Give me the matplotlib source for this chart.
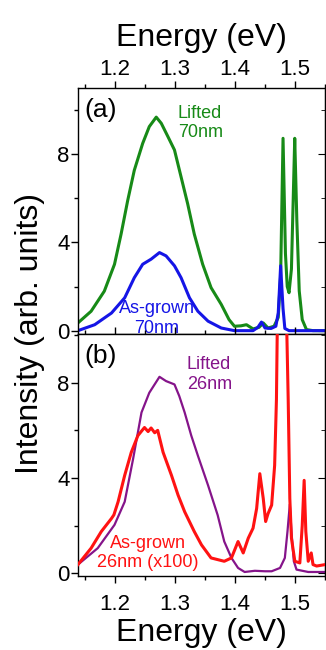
import matplotlib
matplotlib.use("Agg")
import matplotlib.pyplot as plt
from matplotlib.ticker import MultipleLocator

plt.rcParams['font.family'] = ['Liberation Sans', 'DejaVu Sans']

# panel (a): 70nm samples
E_green = [1.138, 1.160, 1.182, 1.199, 1.210, 1.221, 1.232, 1.246, 1.257, 1.2686, 1.277, 1.288,
           1.299, 1.310, 1.321, 1.332, 1.346, 1.360, 1.377, 1.390, 1.399, 1.410, 1.419, 1.430,
           1.440, 1.447, 1.455, 1.465, 1.472, 1.476, 1.480, 1.484, 1.487, 1.490, 1.494, 1.497,
           1.4995, 1.503, 1.507, 1.512, 1.519, 1.53, 1.55]
I_green = [0.35, 0.88, 1.79, 3.01, 4.38, 5.90, 7.27, 8.49, 9.25, 9.68, 9.40, 8.80,
           8.19, 6.97, 5.75, 4.38, 3.01, 1.95, 1.19, 0.5, 0.2, 0.22, 0.27, 0.08,
           0.15, 0.35, 0.12, 0.2, 0.6, 2.5, 8.72, 3.5, 2.0, 1.72, 2.8, 6.0,
           8.72, 5.0, 1.8, 0.5, 0.05, 0.0, 0.0]

E_blue = [1.138, 1.166, 1.194, 1.216, 1.232, 1.246, 1.260, 1.274, 1.285, 1.299, 1.310, 1.324,
          1.338, 1.355, 1.377, 1.399, 1.43, 1.438, 1.444, 1.45, 1.46, 1.468, 1.472, 1.476,
          1.480, 1.483, 1.49, 1.55]
I_blue = [0.0, 0.27, 0.80, 1.49, 2.40, 3.01, 3.24, 3.54, 3.39, 2.94, 2.40, 1.49,
          0.88, 0.43, 0.12, 0.0, 0.0, 0.15, 0.39, 0.12, 0.1, 0.2, 0.8, 2.94,
          1.0, 0.1, 0.0, 0.0]

# panel (b): 26nm samples
E_purple = [1.138, 1.171, 1.199, 1.216, 1.230, 1.244, 1.257, 1.274, 1.285, 1.299, 1.307, 1.316,
            1.327, 1.338, 1.355, 1.371, 1.382, 1.394, 1.405, 1.416, 1.433, 1.45, 1.461, 1.475,
            1.483, 1.4874, 1.4913, 1.494, 1.498, 1.5025, 1.522, 1.55]
I_purple = [0.36, 1.05, 2.03, 3.0, 4.80, 6.75, 7.58, 8.25, 8.07, 7.93, 7.44, 6.75,
            5.78, 4.94, 3.69, 2.44, 1.33, 0.64, 0.22, 0.05, 0.1, 0.08, 0.08, 0.22,
            0.64, 1.75, 2.89, 1.75, 0.5, 0.15, 0.05, 0.05]

E_red = [1.138, 1.160, 1.177, 1.194, 1.198, 1.205, 1.216, 1.227, 1.238, 1.249, 1.255, 1.260,
         1.266, 1.271, 1.280, 1.294, 1.305, 1.316, 1.332, 1.344, 1.360, 1.382, 1.394, 1.405,
         1.4136, 1.422, 1.430, 1.436, 1.4413, 1.447, 1.451, 1.455, 1.461, 1.466, 1.469, 1.4705,
         1.478, 1.486, 1.4886, 1.4913, 1.494, 1.4997, 1.508, 1.512, 1.5152, 1.518, 1.522, 1.527,
         1.530, 1.536, 1.55]
I_red = [0.36, 1.05, 1.75, 2.30, 2.45, 3.0, 4.11, 5.08, 5.78, 6.12, 5.95, 6.1,
         5.9, 6.0, 5.08, 4.11, 3.28, 2.58, 1.75, 1.19, 0.64, 0.5, 0.64, 1.33,
         0.85, 1.47, 1.89, 2.72, 4.18, 3.14, 2.17, 2.5, 2.86, 4.53, 7.3, 10.5,
         25, 10.5, 7.3, 3.14, 1.47, 0.5, 0.43, 2.0, 3.9, 1.75, 0.5, 0.85,
         0.36, 0.3, 0.36]

fig = plt.figure(figsize=(3.26, 6.5), dpi=100)
ax1 = fig.add_axes([0.239, 0.4862, 0.758, 0.3784])
ax2 = fig.add_axes([0.239, 0.1138, 0.758, 0.3724])

ax1.plot(E_green, I_green, color='#178a17', lw=2.2)
ax1.plot(E_blue, I_blue, color='#1515e6', lw=2.2)
ax2.plot(E_purple, I_purple, color='#85148a', lw=1.6)
ax2.plot(E_red, I_red, color='#ff1212', lw=2.2, zorder=3)

ax1.set_ylim(-0.15, 11)
ax2.set_ylim(-0.12, 10.05)

for ax in (ax1, ax2):
    ax.set_xlim(1.138, 1.55)
    ax.xaxis.set_major_locator(MultipleLocator(0.1))
    ax.xaxis.set_minor_locator(MultipleLocator(0.05))
    ax.yaxis.set_major_locator(MultipleLocator(4))
    ax.yaxis.set_minor_locator(MultipleLocator(2))
    ax.tick_params(axis='both', which='major', labelsize=16, width=1, length=5)
    ax.tick_params(axis='both', which='minor', width=1, length=3)
    ax.tick_params(axis='y', which='both', direction='out', left=True, right=False, pad=1)
    ax.tick_params(axis='x', which='both', direction='out')
    for s in ax.spines.values():
        s.set_linewidth(1.0)
    # inward ticks on the right side
    sec = ax.secondary_yaxis('right')
    sec.yaxis.set_major_locator(MultipleLocator(4))
    sec.yaxis.set_minor_locator(MultipleLocator(2))
    sec.tick_params(which='major', direction='in', length=5, labelright=False)
    sec.tick_params(which='minor', direction='in', length=3)

ax1.tick_params(axis='x', which='both', top=True, bottom=True, labeltop=True, labelbottom=False, pad=1)
ax1.xaxis.set_label_position('top')
ax1.set_xlabel('Energy (eV)', fontsize=23, labelpad=9)
ax2.tick_params(axis='x', which='both', top=True, bottom=True, labeltop=False, labelbottom=True)
ax2.tick_params(axis='x', which='major', pad=8)
ax2.set_xlabel('Energy (eV)', fontsize=23, labelpad=2)

fig.text(30 / 326, 1 - 334 / 650, 'Intensity (arb. units)', rotation=90,
         ha='center', va='center', fontsize=23)

ax1.text(0.025, 0.96, '(a)', transform=ax1.transAxes, fontsize=19, ha='left', va='top')
ax2.text(0.025, 0.96, '(b)', transform=ax2.transAxes, fontsize=19, ha='left', va='top')

ax1.text(1.3047, 10.25, 'Lifted\n70nm', color='#178a17', fontsize=13, ha='left', va='top')
ax1.text(1.2697, 0.56, 'As-grown\n70nm', color='#1515e6', fontsize=13, ha='center', va='center')
ax2.text(1.3197, 8.35, 'Lifted\n26nm', color='#85148a', fontsize=13, ha='left', va='center')
ax2.text(1.2547, 0.85, 'As-grown\n26nm (x100)', color='#ff1212', fontsize=13, ha='center', va='center')

fig.savefig('out.png', dpi=100)
